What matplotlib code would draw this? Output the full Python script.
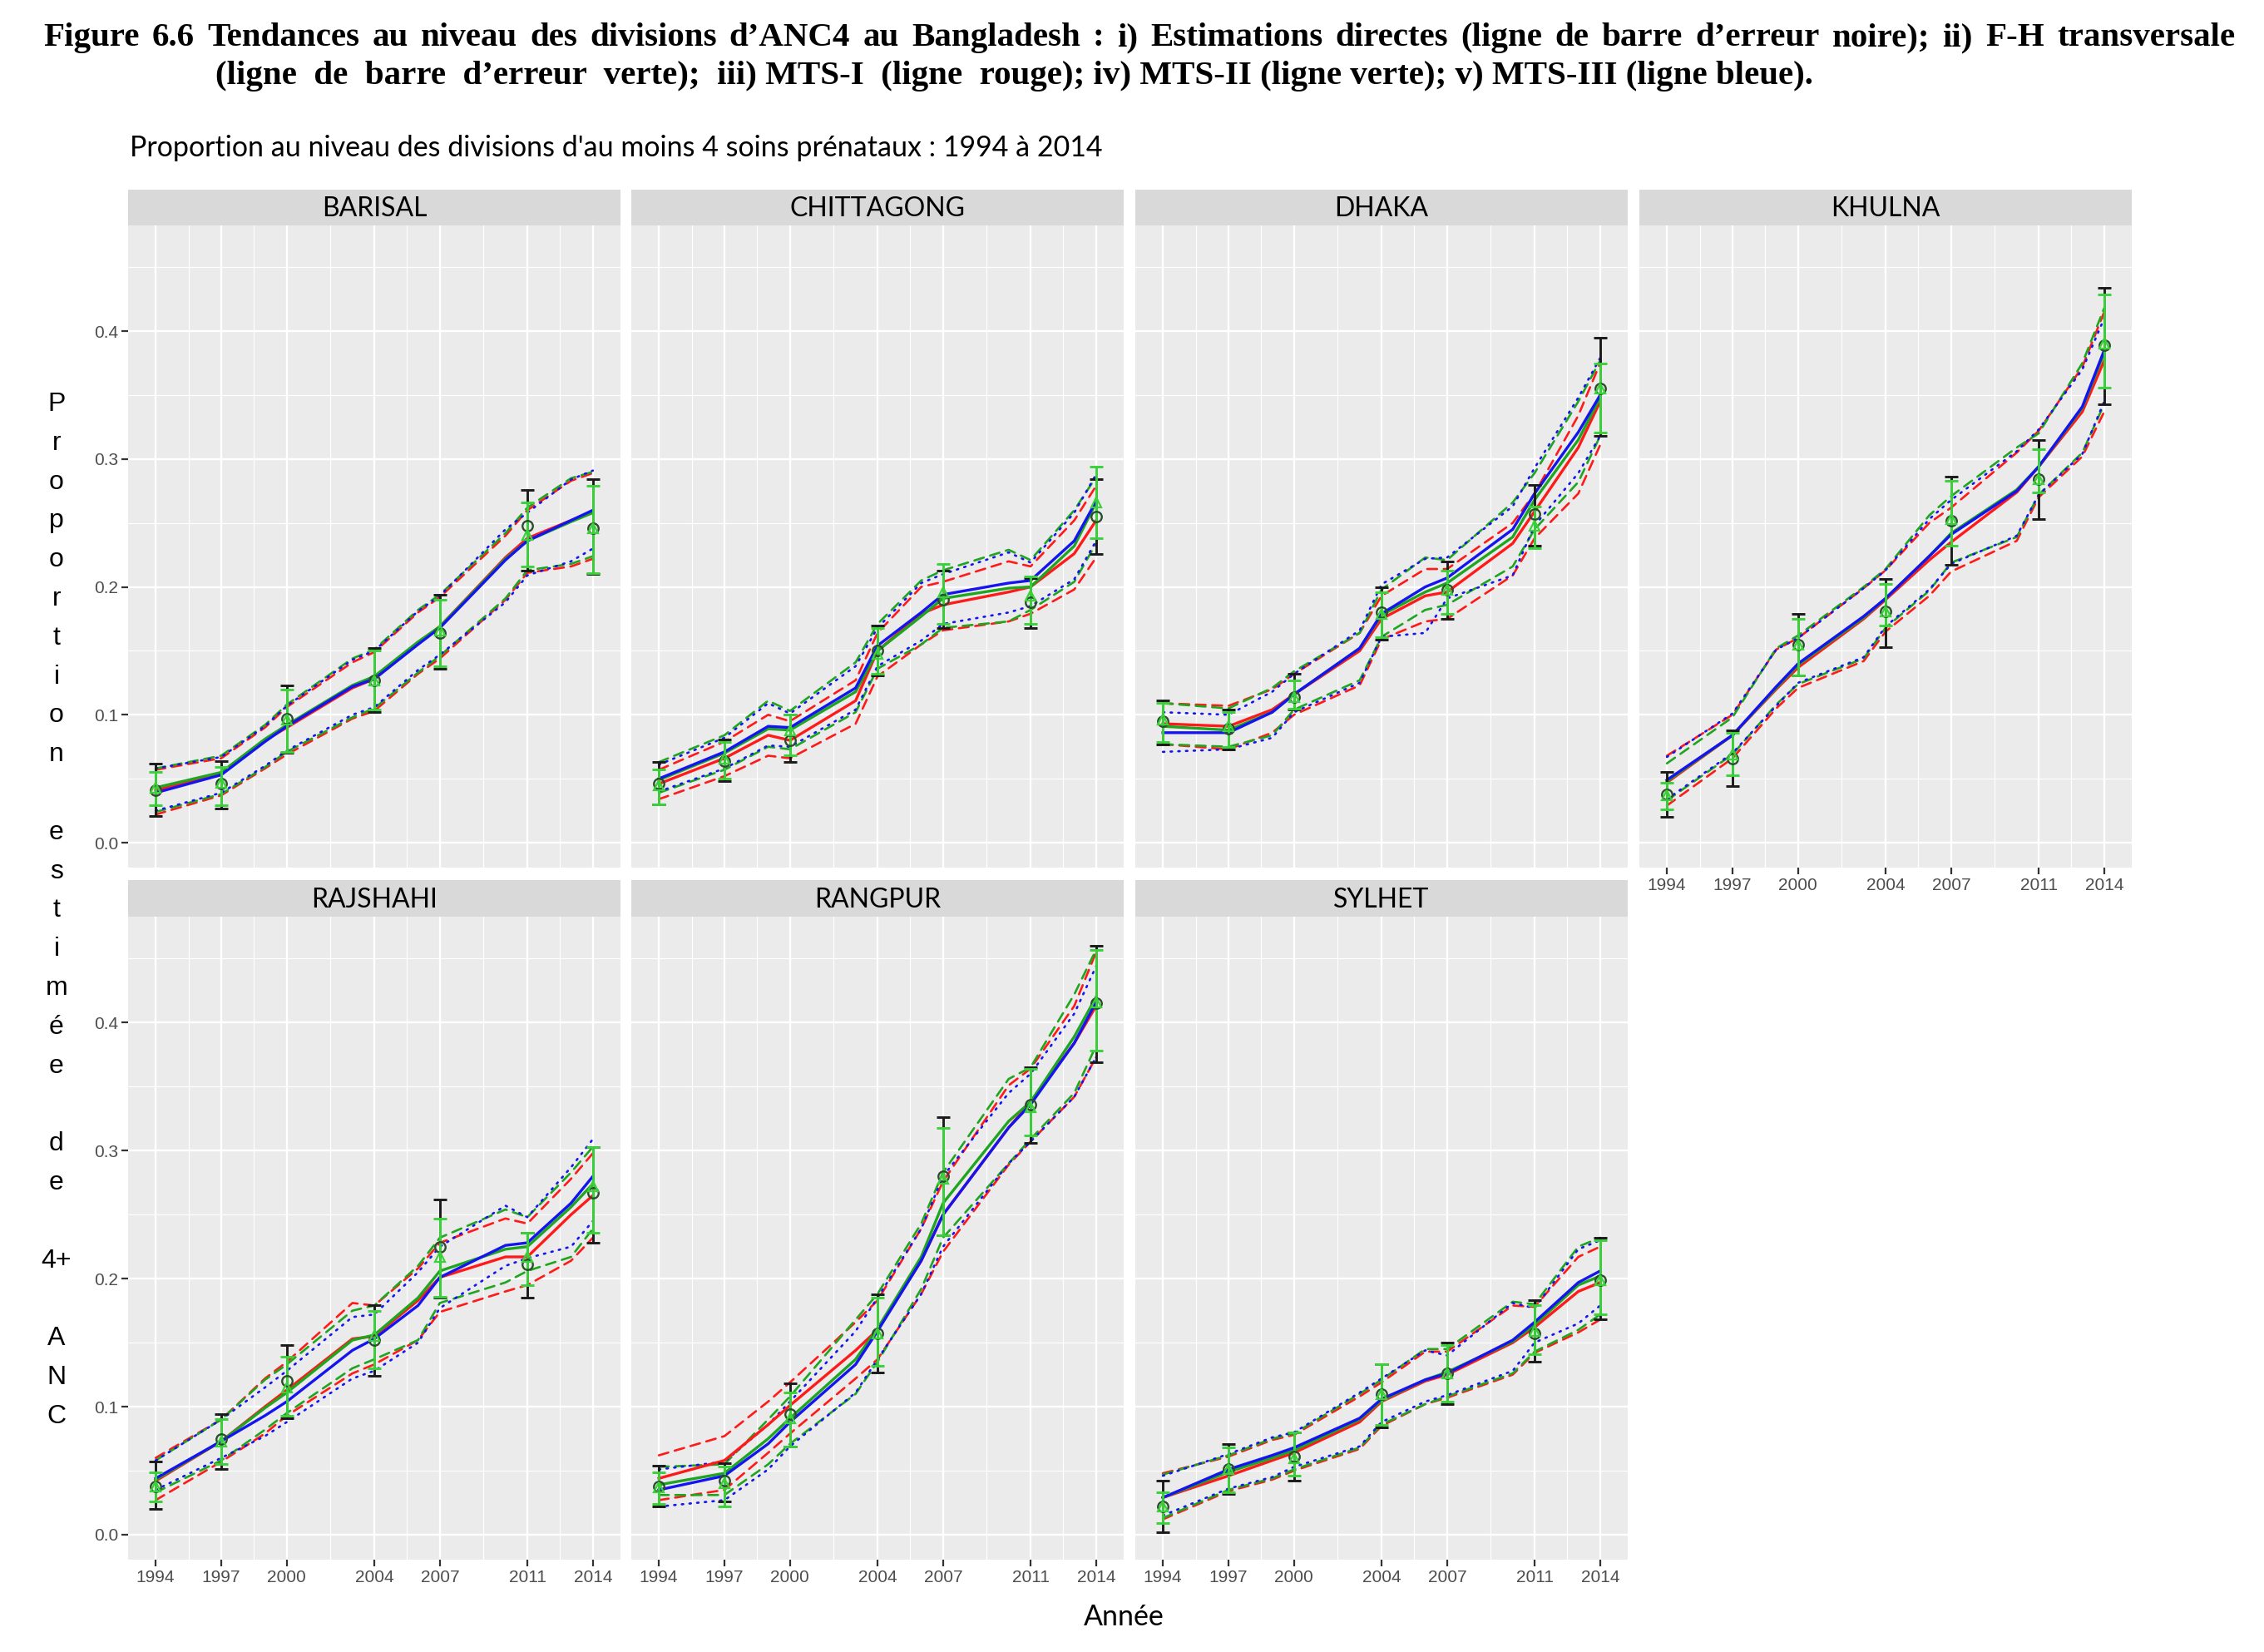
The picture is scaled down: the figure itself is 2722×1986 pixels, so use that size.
import numpy as np
import matplotlib
matplotlib.use("Agg")
import matplotlib.pyplot as plt
from matplotlib.ticker import FixedLocator

# ---- data -------------------------------------------------------------
divisions = ["BARISAL", "CHITTAGONG", "DHAKA", "KHULNA", "RAJSHAHI", "RANGPUR", "SYLHET"]
survey_years = [1994, 1997, 2000, 2004, 2007, 2011, 2014]
model_years = [1994, 1997, 1999, 2000, 2003, 2004, 2006, 2007, 2010, 2011, 2013, 2014]
x_breaks = [1994, 1997, 2000, 2004, 2007, 2011, 2014]
y_breaks = [0.0, 0.1, 0.2, 0.3, 0.4]

# direct estimates (black error bars)
direct = {
    "BARISAL":    [0.041, 0.046, 0.097, 0.127, 0.164, 0.248, 0.246],
    "CHITTAGONG": [0.046, 0.064, 0.080, 0.150, 0.190, 0.188, 0.255],
    "DHAKA":      [0.095, 0.089, 0.114, 0.180, 0.198, 0.257, 0.355],
    "KHULNA":     [0.038, 0.066, 0.155, 0.181, 0.252, 0.284, 0.389],
    "RAJSHAHI":   [0.038, 0.075, 0.120, 0.152, 0.225, 0.211, 0.267],
    "RANGPUR":    [0.038, 0.042, 0.094, 0.157, 0.280, 0.336, 0.415],
    "SYLHET":     [0.022, 0.051, 0.061, 0.110, 0.126, 0.157, 0.199],
}
direct_lo = {
    "BARISAL":    [0.021, 0.027, 0.070, 0.102, 0.136, 0.213, 0.210],
    "CHITTAGONG": [0.030, 0.048, 0.063, 0.131, 0.168, 0.168, 0.226],
    "DHAKA":      [0.077, 0.073, 0.104, 0.159, 0.175, 0.232, 0.318],
    "KHULNA":     [0.020, 0.044, 0.131, 0.153, 0.217, 0.253, 0.343],
    "RAJSHAHI":   [0.020, 0.051, 0.091, 0.124, 0.185, 0.185, 0.228],
    "RANGPUR":    [0.022, 0.026, 0.069, 0.127, 0.234, 0.306, 0.369],
    "SYLHET":     [0.002, 0.032, 0.042, 0.084, 0.102, 0.135, 0.168],
}
direct_hi = {
    "BARISAL":    [0.062, 0.064, 0.123, 0.152, 0.194, 0.276, 0.284],
    "CHITTAGONG": [0.063, 0.081, 0.100, 0.170, 0.213, 0.207, 0.284],
    "DHAKA":      [0.111, 0.104, 0.132, 0.200, 0.220, 0.280, 0.395],
    "KHULNA":     [0.055, 0.088, 0.179, 0.206, 0.286, 0.315, 0.434],
    "RAJSHAHI":   [0.057, 0.094, 0.148, 0.179, 0.262, 0.236, 0.303],
    "RANGPUR":    [0.054, 0.056, 0.118, 0.188, 0.326, 0.365, 0.460],
    "SYLHET":     [0.042, 0.071, 0.080, 0.133, 0.150, 0.183, 0.232],
}

# F-H cross-sectional (green error bars)
fh = {
    "BARISAL":    [0.043, 0.047, 0.096, 0.127, 0.166, 0.241, 0.246],
    "CHITTAGONG": [0.045, 0.066, 0.088, 0.148, 0.196, 0.193, 0.266],
    "DHAKA":      [0.096, 0.091, 0.114, 0.179, 0.198, 0.248, 0.355],
    "KHULNA":     [0.037, 0.069, 0.155, 0.181, 0.253, 0.284, 0.390],
    "RAJSHAHI":   [0.038, 0.073, 0.115, 0.155, 0.217, 0.217, 0.272],
    "RANGPUR":    [0.037, 0.040, 0.091, 0.157, 0.278, 0.334, 0.416],
    "SYLHET":     [0.022, 0.051, 0.060, 0.110, 0.126, 0.159, 0.199],
}
fh_lo = {
    "BARISAL":    [0.029, 0.029, 0.071, 0.104, 0.138, 0.216, 0.211],
    "CHITTAGONG": [0.030, 0.050, 0.068, 0.132, 0.171, 0.171, 0.238],
    "DHAKA":      [0.079, 0.075, 0.105, 0.161, 0.179, 0.230, 0.321],
    "KHULNA":     [0.026, 0.053, 0.131, 0.170, 0.232, 0.274, 0.356],
    "RAJSHAHI":   [0.026, 0.055, 0.093, 0.130, 0.186, 0.195, 0.236],
    "RANGPUR":    [0.024, 0.022, 0.069, 0.132, 0.234, 0.312, 0.378],
    "SYLHET":     [0.009, 0.033, 0.046, 0.086, 0.104, 0.141, 0.172],
}
fh_hi = {
    "BARISAL":    [0.055, 0.059, 0.120, 0.150, 0.190, 0.266, 0.279],
    "CHITTAGONG": [0.057, 0.079, 0.100, 0.168, 0.218, 0.208, 0.294],
    "DHAKA":      [0.109, 0.102, 0.127, 0.196, 0.213, 0.263, 0.375],
    "KHULNA":     [0.047, 0.086, 0.175, 0.202, 0.283, 0.308, 0.429],
    "RAJSHAHI":   [0.049, 0.090, 0.139, 0.175, 0.247, 0.236, 0.303],
    "RANGPUR":    [0.049, 0.053, 0.111, 0.185, 0.318, 0.364, 0.457],
    "SYLHET":     [0.033, 0.068, 0.080, 0.133, 0.148, 0.179, 0.230],
}

# MTS-I (red)
mts1 = {
    "BARISAL":    [0.041, 0.054, 0.080, 0.090, 0.121, 0.128, 0.156, 0.169, 0.223, 0.238, 0.252, 0.259],
    "CHITTAGONG": [0.046, 0.066, 0.084, 0.080, 0.111, 0.150, 0.179, 0.186, 0.196, 0.200, 0.226, 0.252],
    "DHAKA":      [0.093, 0.091, 0.104, 0.116, 0.150, 0.175, 0.193, 0.196, 0.234, 0.259, 0.309, 0.345],
    "KHULNA":     [0.047, 0.084, 0.120, 0.137, 0.175, 0.190, 0.221, 0.235, 0.274, 0.294, 0.337, 0.377],
    "RAJSHAHI":   [0.042, 0.073, 0.100, 0.113, 0.153, 0.155, 0.183, 0.201, 0.217, 0.217, 0.250, 0.265],
    "RANGPUR":    [0.044, 0.058, 0.086, 0.101, 0.144, 0.160, 0.214, 0.250, 0.318, 0.338, 0.384, 0.413],
    "SYLHET":     [0.029, 0.046, 0.058, 0.064, 0.088, 0.104, 0.120, 0.125, 0.150, 0.162, 0.190, 0.197],
}
mts1_lo = {
    "BARISAL":    [0.022, 0.037, 0.058, 0.069, 0.097, 0.103, 0.132, 0.144, 0.190, 0.211, 0.216, 0.222],
    "CHITTAGONG": [0.034, 0.052, 0.068, 0.066, 0.093, 0.130, 0.155, 0.166, 0.173, 0.179, 0.198, 0.223],
    "DHAKA":      [0.077, 0.073, 0.086, 0.100, 0.123, 0.159, 0.173, 0.175, 0.209, 0.238, 0.273, 0.311],
    "KHULNA":     [0.029, 0.066, 0.105, 0.121, 0.142, 0.165, 0.193, 0.212, 0.236, 0.270, 0.302, 0.337],
    "RAJSHAHI":   [0.027, 0.057, 0.079, 0.093, 0.126, 0.133, 0.152, 0.174, 0.190, 0.195, 0.214, 0.232],
    "RANGPUR":    [0.027, 0.035, 0.064, 0.079, 0.122, 0.137, 0.188, 0.221, 0.289, 0.307, 0.342, 0.373],
    "SYLHET":     [0.012, 0.034, 0.043, 0.050, 0.067, 0.085, 0.102, 0.107, 0.125, 0.142, 0.158, 0.168],
}
mts1_hi = {
    "BARISAL":    [0.057, 0.066, 0.090, 0.106, 0.141, 0.149, 0.180, 0.192, 0.240, 0.260, 0.283, 0.289],
    "CHITTAGONG": [0.057, 0.079, 0.100, 0.095, 0.127, 0.164, 0.200, 0.204, 0.220, 0.216, 0.252, 0.279],
    "DHAKA":      [0.109, 0.107, 0.120, 0.132, 0.164, 0.193, 0.214, 0.214, 0.250, 0.273, 0.334, 0.375],
    "KHULNA":     [0.068, 0.100, 0.151, 0.160, 0.199, 0.213, 0.250, 0.262, 0.305, 0.322, 0.372, 0.415],
    "RAJSHAHI":   [0.060, 0.090, 0.122, 0.135, 0.181, 0.179, 0.208, 0.228, 0.247, 0.243, 0.278, 0.298],
    "RANGPUR":    [0.062, 0.077, 0.104, 0.119, 0.166, 0.183, 0.239, 0.276, 0.351, 0.364, 0.413, 0.455],
    "SYLHET":     [0.048, 0.061, 0.074, 0.078, 0.108, 0.119, 0.143, 0.143, 0.179, 0.178, 0.217, 0.225],
}

# MTS-II (green)
mts2 = {
    "BARISAL":    [0.043, 0.055, 0.081, 0.092, 0.123, 0.130, 0.157, 0.169, 0.222, 0.236, 0.251, 0.258],
    "CHITTAGONG": [0.049, 0.070, 0.089, 0.088, 0.118, 0.150, 0.177, 0.191, 0.199, 0.200, 0.232, 0.266],
    "DHAKA":      [0.091, 0.088, 0.102, 0.116, 0.152, 0.178, 0.196, 0.203, 0.239, 0.268, 0.315, 0.348],
    "KHULNA":     [0.048, 0.084, 0.121, 0.139, 0.176, 0.191, 0.224, 0.242, 0.276, 0.294, 0.340, 0.383],
    "RAJSHAHI":   [0.043, 0.073, 0.099, 0.111, 0.152, 0.156, 0.185, 0.206, 0.223, 0.225, 0.256, 0.274],
    "RANGPUR":    [0.039, 0.048, 0.075, 0.091, 0.137, 0.161, 0.217, 0.259, 0.323, 0.338, 0.389, 0.420],
    "SYLHET":     [0.029, 0.049, 0.060, 0.066, 0.090, 0.105, 0.121, 0.127, 0.151, 0.164, 0.195, 0.202],
}
mts2_lo = {
    "BARISAL":    [0.024, 0.038, 0.059, 0.071, 0.098, 0.105, 0.133, 0.146, 0.191, 0.213, 0.218, 0.224],
    "CHITTAGONG": [0.039, 0.057, 0.075, 0.073, 0.102, 0.136, 0.155, 0.168, 0.173, 0.182, 0.204, 0.234],
    "DHAKA":      [0.077, 0.075, 0.084, 0.104, 0.127, 0.161, 0.182, 0.186, 0.216, 0.245, 0.282, 0.318],
    "KHULNA":     [0.033, 0.069, 0.108, 0.124, 0.144, 0.168, 0.197, 0.219, 0.239, 0.272, 0.305, 0.343],
    "RAJSHAHI":   [0.033, 0.058, 0.082, 0.095, 0.130, 0.137, 0.152, 0.181, 0.197, 0.206, 0.217, 0.239],
    "RANGPUR":    [0.031, 0.031, 0.055, 0.071, 0.110, 0.135, 0.192, 0.232, 0.290, 0.309, 0.345, 0.382],
    "SYLHET":     [0.013, 0.035, 0.044, 0.051, 0.068, 0.086, 0.102, 0.108, 0.126, 0.143, 0.160, 0.172],
}
mts2_hi = {
    "BARISAL":    [0.058, 0.068, 0.092, 0.108, 0.144, 0.151, 0.182, 0.194, 0.242, 0.262, 0.285, 0.290],
    "CHITTAGONG": [0.063, 0.084, 0.111, 0.103, 0.141, 0.171, 0.205, 0.213, 0.229, 0.221, 0.260, 0.286],
    "DHAKA":      [0.109, 0.105, 0.121, 0.134, 0.164, 0.198, 0.223, 0.221, 0.266, 0.289, 0.345, 0.377],
    "KHULNA":     [0.062, 0.098, 0.152, 0.162, 0.200, 0.214, 0.256, 0.271, 0.309, 0.320, 0.375, 0.418],
    "RAJSHAHI":   [0.058, 0.090, 0.121, 0.133, 0.175, 0.179, 0.210, 0.232, 0.254, 0.248, 0.283, 0.303],
    "RANGPUR":    [0.053, 0.055, 0.090, 0.108, 0.168, 0.188, 0.243, 0.283, 0.356, 0.365, 0.422, 0.457],
    "SYLHET":     [0.047, 0.062, 0.075, 0.079, 0.110, 0.121, 0.145, 0.145, 0.182, 0.180, 0.225, 0.232],
}

# MTS-III (blue)
mts3 = {
    "BARISAL":    [0.039, 0.053, 0.079, 0.091, 0.122, 0.128, 0.155, 0.168, 0.221, 0.236, 0.252, 0.260],
    "CHITTAGONG": [0.050, 0.071, 0.091, 0.090, 0.121, 0.154, 0.180, 0.194, 0.203, 0.205, 0.236, 0.267],
    "DHAKA":      [0.086, 0.086, 0.102, 0.116, 0.152, 0.179, 0.200, 0.207, 0.245, 0.273, 0.321, 0.350],
    "KHULNA":     [0.049, 0.084, 0.122, 0.140, 0.177, 0.191, 0.224, 0.241, 0.275, 0.294, 0.341, 0.385],
    "RAJSHAHI":   [0.044, 0.073, 0.093, 0.104, 0.144, 0.153, 0.179, 0.201, 0.226, 0.228, 0.259, 0.280],
    "RANGPUR":    [0.035, 0.046, 0.071, 0.088, 0.133, 0.159, 0.214, 0.250, 0.318, 0.336, 0.384, 0.416],
    "SYLHET":     [0.029, 0.051, 0.062, 0.068, 0.091, 0.106, 0.121, 0.126, 0.152, 0.166, 0.197, 0.206],
}
mts3_lo = {
    "BARISAL":    [0.025, 0.039, 0.060, 0.072, 0.100, 0.106, 0.135, 0.147, 0.188, 0.209, 0.220, 0.230],
    "CHITTAGONG": [0.040, 0.058, 0.076, 0.075, 0.104, 0.138, 0.158, 0.171, 0.180, 0.185, 0.206, 0.236],
    "DHAKA":      [0.071, 0.073, 0.082, 0.102, 0.125, 0.161, 0.164, 0.191, 0.209, 0.248, 0.289, 0.318],
    "KHULNA":     [0.034, 0.070, 0.107, 0.125, 0.145, 0.169, 0.198, 0.218, 0.240, 0.272, 0.304, 0.345],
    "RAJSHAHI":   [0.035, 0.060, 0.077, 0.088, 0.122, 0.128, 0.150, 0.177, 0.210, 0.216, 0.225, 0.245],
    "RANGPUR":    [0.022, 0.027, 0.051, 0.069, 0.111, 0.137, 0.188, 0.225, 0.290, 0.307, 0.342, 0.373],
    "SYLHET":     [0.015, 0.036, 0.045, 0.053, 0.069, 0.088, 0.104, 0.109, 0.128, 0.150, 0.165, 0.179],
}
mts3_hi = {
    "BARISAL":    [0.058, 0.067, 0.091, 0.107, 0.143, 0.150, 0.181, 0.193, 0.245, 0.258, 0.284, 0.291],
    "CHITTAGONG": [0.061, 0.082, 0.109, 0.101, 0.138, 0.168, 0.203, 0.210, 0.227, 0.219, 0.258, 0.288],
    "DHAKA":      [0.102, 0.100, 0.118, 0.132, 0.166, 0.202, 0.222, 0.223, 0.263, 0.293, 0.348, 0.379],
    "KHULNA":     [0.067, 0.101, 0.151, 0.160, 0.199, 0.213, 0.253, 0.268, 0.306, 0.323, 0.370, 0.410],
    "RAJSHAHI":   [0.058, 0.090, 0.115, 0.128, 0.170, 0.172, 0.205, 0.225, 0.257, 0.248, 0.287, 0.309],
    "RANGPUR":    [0.051, 0.057, 0.086, 0.104, 0.159, 0.185, 0.239, 0.280, 0.345, 0.360, 0.407, 0.444],
    "SYLHET":     [0.046, 0.063, 0.076, 0.080, 0.111, 0.122, 0.144, 0.140, 0.181, 0.177, 0.223, 0.230],
}

# ---- layout -----------------------------------------------------------
W, H = 2722, 1986
fig = plt.figure(figsize=(W / 100, H / 100), dpi=100)
fig.patch.set_facecolor("white")

col_left = [154, 759, 1365, 1971]
panel_w = 592
row_strip_top = [228, 1058]
row_top = [270.5, 1101.6]
row_bot = [1043, 1875]

grid_pos = {
    "BARISAL": (0, 0), "CHITTAGONG": (0, 1), "DHAKA": (0, 2), "KHULNA": (0, 3),
    "RAJSHAHI": (1, 0), "RANGPUR": (1, 1), "SYLHET": (1, 2),
}
show_x = {"KHULNA", "RAJSHAHI", "RANGPUR", "SYLHET"}
show_y = {"BARISAL", "RAJSHAHI"}

RED = "#ff1a1a"
GREEN = "#1fa51f"
BLUE = "#1414f0"
FHGREEN = "#3ad13a"
tick_font = "Liberation Sans"
strip_font = "Lato"

x_minor = [(a + b) / 2 for a, b in zip(x_breaks[:-1], x_breaks[1:])]
y_minor = [0.05, 0.15, 0.25, 0.35, 0.45]

for div in divisions:
    r, c = grid_pos[div]
    left = col_left[c] / W
    ax = fig.add_axes([left, 1 - row_bot[r] / H, panel_w / W, (row_bot[r] - row_top[r]) / H])
    sax = fig.add_axes([left, 1 - row_top[r] / H, panel_w / W, (row_top[r] - row_strip_top[r]) / H])
    sax.set_facecolor("#d9d9d9")
    sax.set_xticks([]); sax.set_yticks([])
    for s in sax.spines.values():
        s.set_visible(False)
    sax.text(0.5, 0.45, div, ha="center", va="center", fontsize=23,
             family=strip_font, color="black", transform=sax.transAxes)

    ax.set_facecolor("#ebebeb")
    for s in ax.spines.values():
        s.set_visible(False)
    ax.set_xlim(1992.74, 2015.26)
    ax.set_ylim(-0.0195, 0.483)
    ax.xaxis.set_major_locator(FixedLocator(x_breaks))
    ax.xaxis.set_minor_locator(FixedLocator(x_minor))
    ax.yaxis.set_major_locator(FixedLocator(y_breaks))
    ax.yaxis.set_minor_locator(FixedLocator(y_minor))
    ax.grid(which="major", color="white", linewidth=1.7)
    ax.grid(which="minor", color="white", linewidth=0.8)
    ax.set_axisbelow(True)
    ax.tick_params(which="minor", length=0)
    ax.tick_params(which="major", length=5.5, width=1.6, color="#333333",
                   labelsize=15, labelcolor="#4d4d4d", pad=3)
    if div in show_x:
        ax.set_xticklabels([str(y) for y in x_breaks], family=tick_font)
    else:
        ax.tick_params(axis="x", which="major", length=0, labelbottom=False)
    if div in show_y:
        ax.set_yticklabels(["%.1f" % v for v in y_breaks], family=tick_font)
    else:
        ax.tick_params(axis="y", which="major", length=0, labelleft=False)

    # confidence bounds
    for lo, hi, col, ls in [(mts1_lo, mts1_hi, RED, (0, (4.5, 3))),
                            (mts2_lo, mts2_hi, GREEN, (0, (4.5, 3))),
                            (mts3_lo, mts3_hi, BLUE, (0, (0.7, 2.8)))]:
        for arr in (lo, hi):
            ax.plot(model_years, arr[div], color=col, linestyle=ls, linewidth=1.9,
                    dash_capstyle="round")
    # model estimates
    ax.plot(model_years, mts1[div], color=RED, linewidth=2.4)
    ax.plot(model_years, mts2[div], color=GREEN, linewidth=2.4)
    ax.plot(model_years, mts3[div], color=BLUE, linewidth=2.4)

    # direct estimates and F-H cross-sectional
    d = np.array(direct[div]); f = np.array(fh[div])
    ax.errorbar(survey_years, d, yerr=[d - np.array(direct_lo[div]), np.array(direct_hi[div]) - d],
                fmt="none", ecolor="#1a1a1a", elinewidth=2.1, capsize=6, capthick=2.1)
    ax.errorbar(survey_years, f, yerr=[f - np.array(fh_lo[div]), np.array(fh_hi[div]) - f],
                fmt="none", ecolor=FHGREEN, elinewidth=2.1, capsize=5.5, capthick=2.1)
    ax.plot(survey_years, d, linestyle="none", marker="o", markersize=9,
            markerfacecolor="none", markeredgecolor="#2b4d2b", markeredgewidth=1.7)
    ax.plot(survey_years, f, linestyle="none", marker="^", markersize=8.5,
            markerfacecolor="none", markeredgecolor=FHGREEN, markeredgewidth=1.6)

# ---- texts ------------------------------------------------------------
title1 = ("Figure 6.6   Tendances au niveau des divisions d’ANC4 au Bangladesh : "
          "i) Estimations directes (ligne de barre d’erreur  noire);  ii) F-H  transversale")
title2 = ("(ligne  de  barre  d’erreur  verte);  iii) MTS-I  (ligne  rouge); "
          "iv) MTS-II (ligne verte); v) MTS-III (ligne bleue).")
title_kw = dict(fontsize=29.5, family="Liberation Serif", weight="bold", va="baseline")

# justify first title line between its two ends
renderer = fig.canvas.get_renderer()
words = title1.split()
arts = [fig.text(0, 1 - 55 / H, w, **title_kw) for w in words]
widths = [a.get_window_extent(renderer).width for a in arts]
x0, x1 = 52, 2687
gap = ((x1 - x0) - sum(widths)) / (len(words) - 1)
xpos = x0
for a, w in zip(arts, widths):
    a.set_x(xpos / W)
    xpos += w + gap

fig.text(259 / W, 1 - 101 / H, title2, **title_kw)

fig.text(156 / W, 1 - 188 / H,
         "Proportion au niveau des divisions d'au moins 4 soins prénataux : 1994 à 2014",
         fontsize=24.5, family="Lato", va="baseline")

fig.text(1351 / W, 1 - 1944 / H, "Année", fontsize=24.5, family="Lato",
         ha="center", va="center")

ylab_lines = ["P", "r", "o", "p", "o", "r", "t", "i", "o", "n", "",
              "e", "s", "t", "i", "m", "é", "e", "", "d", "e", "", "4+", "",
              "A", "N", "C"]
for i, ch in enumerate(ylab_lines):
    if ch:
        fig.text(68 / W, 1 - (486 + i * 46.8) / H, ch, fontsize=23,
                 family="Liberation Sans", ha="center", va="center")

fig.savefig("out.png", dpi=100, facecolor="white")
